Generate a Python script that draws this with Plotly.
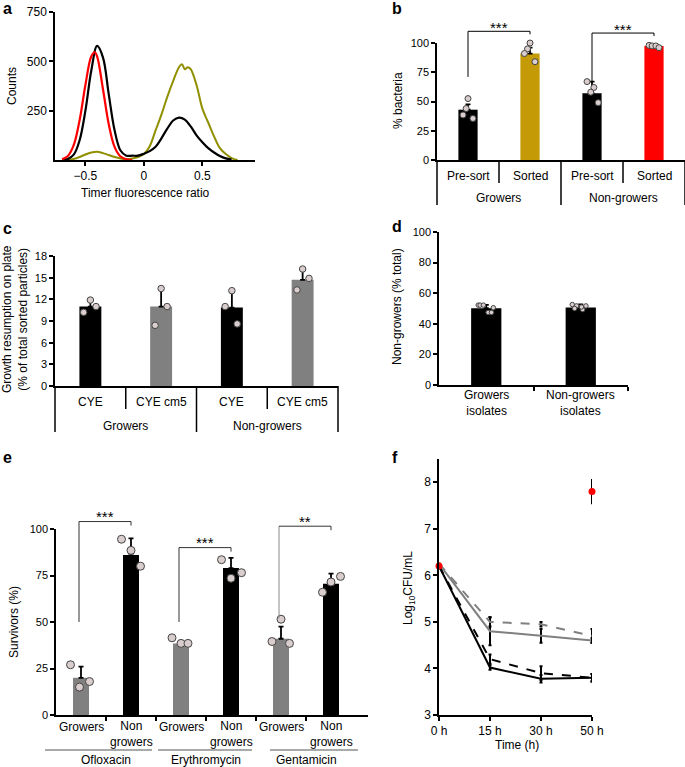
import plotly.graph_objects as go

W, H = 685, 767
FONT = "Liberation Sans, Arial, sans-serif"

# ---------------- data ----------------
# panel a: timer fluorescence histograms
a_x = [-0.70, -0.65, -0.60, -0.55, -0.50, -0.45, -0.40, -0.35, -0.30, -0.25, -0.20, -0.15,
       -0.10, -0.05, 0.00, 0.05, 0.10, 0.15, 0.20, 0.25, 0.30, 0.35, 0.40, 0.45, 0.50, 0.55,
       0.60, 0.65, 0.70, 0.75]
a_black = [0, 5, 27, 99, 250, 452, 578, 520, 331, 149, 48, 22,
           22, 22, 32, 45, 67, 110, 159, 200, 215, 205, 170, 125, 90, 60,
           38, 20, 8, 2]
a_red_x = [-0.70, -0.65, -0.60, -0.55, -0.50, -0.45, -0.42, -0.40, -0.35, -0.30, -0.25, -0.20, -0.15, -0.10]
a_red = [4, 20, 75, 200, 380, 525, 546, 525, 360, 180, 65, 18, 4, 0]
a_olive_x = [-0.65, -0.60, -0.55, -0.50, -0.45, -0.40, -0.35, -0.30, -0.25, -0.20, -0.15,
             -0.10, -0.05, 0.00, 0.05, 0.10, 0.15, 0.20, 0.25, 0.30, 0.325, 0.35, 0.375, 0.40,
             0.45, 0.50, 0.55, 0.60, 0.65, 0.70, 0.75, 0.80]
a_olive = [0, 5, 15, 28, 38, 42, 35, 25, 15, 8, 5,
           8, 15, 30, 70, 150, 230, 320, 400, 470, 485, 460, 470, 460,
           380, 260, 190, 120, 60, 30, 10, 0]

# panel b
b_cats = ["Pre-sort", "Sorted", "Pre-sort", "Sorted"]
b_groups = ["Growers", "Non-growers"]
b_means = [43, 91, 57, 97.5]
b_err = [4.5, 5, 10, 0.5]
b_points = [[52.5, 44, 38.5, 35.5], [100, 95, 91, 84], [67, 62, 58, 49], [98, 97.5, 97.5, 96]]
b_jit = [[0, -0.03, -0.08, 0.08], [0, -0.04, -0.09, 0.08], [-0.08, 0.03, -0.02, 0.1], [-0.08, -0.03, 0.03, 0.08]]
b_colors = ["#000000", "#c49a06", "#000000", "#ff0000"]
b_sig = ["***", "***"]
b_sig_leg = [71, 67]
b_sig_top = [110, 108.5]

# panel c
c_cats = ["CYE", "CYE cm5", "CYE", "CYE cm5"]
c_groups = ["Growers", "Non-growers"]
c_means = [11.0, 11.0, 10.86, 14.7]
c_err = [0.9, 2.5, 2.3, 1.5]
c_points = [[11.9, 10.2, 11.0], [13.5, 8.4, 11.0], [13.2, 11.0, 8.6], [16.2, 13.3, 14.9]]
c_jit = [[0, -0.095, 0.08], [0, -0.085, 0.085], [0, -0.095, 0.075], [0, -0.08, 0.09]]
c_colors = ["#000000", "#808080", "#000000", "#808080"]

# panel d
d_cats = ["Growers<br>isolates", "Non-growers<br>isolates"]
d_means = [50.2, 50.6]
d_err = [2.2, 2.0]
d_points = [[52.2, 52.2, 52.2, 50.5, 47.4, 47.4], [52.6, 51.7, 50.0, 49.3, 51.7, 51.0]]
d_jit = [[-0.085, -0.065, -0.03, 0.075, 0.02, 0.055], [-0.09, -0.045, -0.065, 0.02, 0.055, 0.008]]

# panel e
e_cats = ["Growers", "Non<br>growers"] * 3
e_groups = ["Ofloxacin", "Erythromycin", "Gentamicin"]
e_means = [20, 86, 38.5, 79, 41, 70.5]
e_err = [6, 9, 1, 5.5, 6.5, 5.5]
e_points = [[27, 15, 18], [94.5, 88.5, 80], [41.5, 38.5, 38.5],
            [83.5, 73.5, 76.5], [51.5, 39.5, 38.5], [66, 71.5, 74.5]]
e_jit = [[-0.21, -0.03, 0.17], [-0.19, 0, 0.19], [-0.18, 0, 0.14],
         [-0.19, 0, 0.21], [0, -0.18, 0.17], [-0.17, 0, 0.19]]
e_colors = ["#808080", "#000000"] * 3
e_sig = ["***", "***", "**"]
e_sig_leg = [50, 50, 52]
e_sig_top = [104, 90, 101.5]

# panel f
f_ticks = ["0 h", "15 h", "30 h", "50 h"]
f_gray_solid = [6.25, 4.8, 4.7, 4.6]
f_gray_solid_err = [0, 0.3, 0.15, 0.05]
f_gray_dash = [6.25, 5.0, 4.95, 4.7]
f_gray_dash_err = [0, 0.1, 0.05, 0.15]
f_black_solid = [6.2, 4.02, 3.78, 3.8]
f_black_solid_err = [0, 0.05, 0.08, 0.08]
f_black_dash = [6.2, 4.2, 3.9, 3.8]
f_black_dash_err = [0, 0.1, 0.15, 0.08]
f_red_x = [0, 3]
f_red = [6.2, 7.8]
f_red_err = [0, 0.27]

# ---------------- panel geometry (pixels) ----------------
P = {
    "a": dict(x0=55, x1=255, r0=-0.76, r1=0.95, yb=160, yt=12, s0=0, s1=750),
    "b": dict(x0=437, x1=685, r0=-0.5, r1=3.5, yb=160, yt=43, s0=0, s1=100),
    "c": dict(x0=55, x1=338, r0=-0.5, r1=3.5, yb=386, yt=256, s0=0, s1=18),
    "d": dict(x0=439, x1=628, r0=-0.5, r1=1.5, yb=385, yt=232, s0=0, s1=100),
    "e": dict(x0=56, x1=368, r0=-0.5, r1=5.74, yb=715, yt=529, s0=0, s1=100),
    "f": dict(x0=439, x1=592, r0=0, r1=3, yb=715, yt=459, s0=3, s1=8.5),
}
AX = {"a": "", "b": "2", "c": "3", "d": "4", "e": "5", "f": "6"}


def dpx(p, xv):
    g = P[p]
    return g["x0"] + (xv - g["r0"]) / (g["r1"] - g["r0"]) * (g["x1"] - g["x0"])


def dpy(p, yv):
    g = P[p]
    return g["yb"] - (yv - g["s0"]) / (g["s1"] - g["s0"]) * (g["yb"] - g["yt"])


def fx(px):
    return px / W


def fy(py):
    return 1 - py / H


shapes = []
annotations = []


def line_px(x0, y0, x1, y1, color="black", width=1.5):
    shapes.append(dict(type="line", xref="paper", yref="paper",
                       x0=fx(x0), y0=fy(y0), x1=fx(x1), y1=fy(y1),
                       line=dict(color=color, width=width)))


def text_px(x, y, t, size=12, angle=0, bold=False, xanchor="center"):
    annotations.append(dict(xref="paper", yref="paper", x=fx(x), y=fy(y), text=("<b>%s</b>" % t) if bold else t,
                            showarrow=False, textangle=angle, xanchor=xanchor, yanchor="middle",
                            font=dict(family=FONT, size=size, color="black")))


fig = go.Figure()


def xa(p):
    return "x" + AX[p]


def ya(p):
    return "y" + AX[p]


DOT = dict(color="#d9cdcd", line=dict(color="#444444", width=1))


def add_bars(p, means, err, colors, width):
    xs = list(range(len(means)))
    fig.add_trace(go.Bar(x=xs, y=means, width=width, marker=dict(color=colors, line=dict(width=0)),
                         error_y=dict(type="data", symmetric=False, array=err, arrayminus=[0] * len(err),
                                      color="black", thickness=1.8, width=2.5),
                         xaxis=xa(p), yaxis=ya(p), showlegend=False))


def add_dots(p, points, jit, size):
    xs, ys = [], []
    for i, (pts, js) in enumerate(zip(points, jit)):
        for v, j in zip(pts, js):
            xs.append(i + j)
            ys.append(v)
    fig.add_trace(go.Scatter(x=xs, y=ys, mode="markers", marker=dict(size=size, **DOT),
                             cliponaxis=False, xaxis=xa(p), yaxis=ya(p), showlegend=False))


# ---- panel a ----
fig.add_trace(go.Scatter(x=a_olive_x, y=a_olive, mode="lines", line=dict(color="#8f8f00", width=2, shape="spline"),
                         xaxis="x", yaxis="y", showlegend=False))
fig.add_trace(go.Scatter(x=a_x, y=a_black, mode="lines", line=dict(color="black", width=2.2, shape="spline"),
                         xaxis="x", yaxis="y", showlegend=False))
fig.add_trace(go.Scatter(x=a_red_x, y=a_red, mode="lines", line=dict(color="#ff0000", width=2.2, shape="spline"),
                         xaxis="x", yaxis="y", showlegend=False))

# ---- panel b ----
add_bars("b", b_means, b_err, b_colors, 0.31)
add_dots("b", b_points, b_jit, 6)
for i, xv in enumerate([-0.5, 0.5, 1.5, 2.5, 3.5]):
    long_ = i % 2 == 0
    line_px(dpx("b", xv), P["b"]["yb"], dpx("b", xv), 205 if long_ else 183, width=1.5)
for i, c in enumerate(b_cats):
    text_px(dpx("b", i), 176, c)
for g, name in enumerate(b_groups):
    text_px(dpx("b", 2 * g + 0.5), 198, name)
for g, s in enumerate(b_sig):
    xl, xr = dpx("b", 2 * g), dpx("b", 2 * g + 1)
    top = dpy("b", b_sig_top[g])
    line_px(xl, dpy("b", b_sig_leg[g]), xl, top, width=1)
    line_px(xl, top, xr, top, width=1)
    line_px(xr, top, xr, top + 3, width=1)
    text_px((xl + xr) / 2, top - 4, s, size=15)

# ---- panel c ----
add_bars("c", c_means, c_err, c_colors, 0.31)
add_dots("c", c_points, c_jit, 6.5)
for i, xv in enumerate([-0.5, 0.5, 1.5, 2.5, 3.5]):
    long_ = i % 2 == 0
    line_px(dpx("c", xv), P["c"]["yb"], dpx("c", xv), 432 if long_ else 409, width=1.5)
for i, c in enumerate(c_cats):
    text_px(dpx("c", i), 402, c)
for g, name in enumerate(c_groups):
    text_px(dpx("c", 2 * g + 0.5), 426, name)

# ---- panel d ----
add_bars("d", d_means, d_err, ["#000000", "#000000"], 0.32)
add_dots("d", d_points, d_jit, 4.5)
for i, c in enumerate(d_cats):
    text_px(dpx("d", i), 403, c)

# ---- panel e ----
add_bars("e", e_means, e_err, e_colors, 0.32)
add_dots("e", e_points, e_jit, 8)
for i, c in enumerate(e_cats):
    text_px(dpx("e", i), 734 if "<br>" in c else 727, c)
for g, name in enumerate(e_groups):
    text_px(dpx("e", 2 * g + 0.5), 760, name)
group_lines = [(45, 152), (158, 252), (270, 358)]
for (l0, l1) in group_lines:
    line_px(l0, 750, l1, 750, color="#555555", width=1)
for g, s in enumerate(e_sig):
    xl, xr = dpx("e", 2 * g) - 2, dpx("e", 2 * g + 1)
    top = dpy("e", e_sig_top[g])
    col = "#888888" if g == 2 else "#333333"
    line_px(xl, dpy("e", e_sig_leg[g]), xl, top, color=col, width=1)
    line_px(xl, top, xr, top, color="#333333", width=1)
    line_px(xr, top, xr, top + 4, color="#333333", width=1)
    text_px((xl + xr) / 2, top - 5, s, size=15)

# ---- panel f ----
fx_ = [0, 1, 2, 3]
f_series = [
    (f_gray_solid, f_gray_solid_err, "#808080", "solid"),
    (f_gray_dash, f_gray_dash_err, "#808080", "dash"),
    (f_black_solid, f_black_solid_err, "#000000", "solid"),
    (f_black_dash, f_black_dash_err, "#000000", "dash"),
]
for ys, es, col, dash in f_series:
    fig.add_trace(go.Scatter(x=fx_, y=ys, mode="lines", line=dict(color=col, width=2, dash=dash),
                             error_y=dict(type="data", array=es, color="black", thickness=2, width=1.5),
                             cliponaxis=False, xaxis="x6", yaxis="y6", showlegend=False))
fig.add_trace(go.Scatter(x=f_red_x, y=f_red, mode="markers", marker=dict(color="#ff0000", size=7),
                         error_y=dict(type="data", array=f_red_err, color="black", thickness=2, width=0),
                         cliponaxis=False, xaxis="x6", yaxis="y6", showlegend=False))

# ---------------- axes ----------------
base = dict(showline=True, linecolor="black", linewidth=1.5, ticks="outside", ticklen=4, tickwidth=1.5,
            tickcolor="black", showgrid=False, zeroline=False, fixedrange=True, automargin=False,
            tickfont=dict(family=FONT, size=11, color="black"))

layout_axes = {}
for p in "abcdef":
    g = P[p]
    xn = "xaxis" + AX[p]
    yn = "yaxis" + AX[p]
    layout_axes[xn] = dict(base, domain=[fx(g["x0"]), fx(g["x1"])], range=[g["r0"], g["r1"]],
                           anchor=ya(p))
    layout_axes[yn] = dict(base, domain=[fy(g["yb"]), fy(g["yt"])], range=[g["s0"], g["s1"]],
                           anchor=xa(p))

layout_axes["xaxis"].update(tickvals=[-0.5, 0, 0.5], ticktext=["\u22120.5", "0", "0.5"],
                            tickfont=dict(family=FONT, size=12, color="black"))
layout_axes["yaxis"].update(tickvals=[250, 500, 750], tickfont=dict(family=FONT, size=12, color="black"))
layout_axes["xaxis2"].update(showticklabels=False, ticks="")
layout_axes["yaxis2"].update(tickvals=[0, 25, 50, 75, 100])
layout_axes["xaxis3"].update(showticklabels=False, ticks="")
layout_axes["yaxis3"].update(tickvals=[0, 3, 6, 9, 12, 15, 18])
layout_axes["xaxis4"].update(showticklabels=False, tickvals=[0.5, 1.5])
layout_axes["yaxis4"].update(tickvals=[0, 20, 40, 60, 80, 100])
layout_axes["xaxis5"].update(showticklabels=False, tickvals=[0.5, 1.5, 2.5, 3.5, 4.5])
layout_axes["yaxis5"].update(tickvals=[0, 25, 50, 75, 100])
layout_axes["xaxis6"].update(tickvals=fx_, ticktext=f_ticks, tickfont=dict(family=FONT, size=12, color="black"))
layout_axes["yaxis6"].update(tickvals=[3, 4, 5, 6, 7, 8], tickfont=dict(family=FONT, size=12, color="black"))

# ---------------- titles / letters ----------------
text_px(12, 86, "Counts", angle=-90)
text_px(145, 193, "Timer fluorescence ratio")
text_px(398, 101, "% bacteria", angle=-90)
text_px(15, 319, "Growth resumption on plate<br>(% of total sorted particles)", angle=-90)
text_px(397, 307, "Non-growers (% total)", angle=-90)
text_px(14, 622, "Survivors (%)", angle=-90)
text_px(409, 588, "Log<sub>10</sub>CFU/mL", angle=-90)
text_px(517, 745, "Time (h)")

for L, (x, y) in {"a": (7, 9), "b": (397, 9), "c": (7, 228), "d": (397, 227), "e": (7, 457), "f": (395, 457)}.items():
    text_px(x, y, L, size=16, bold=True)

fig.update_layout(width=W, height=H, margin=dict(l=0, r=0, t=0, b=0, autoexpand=False),
                  paper_bgcolor="white", plot_bgcolor="white", showlegend=False,
                  barmode="overlay", shapes=shapes, annotations=annotations,
                  font=dict(family=FONT, size=12, color="black"), **layout_axes)

fig.write_html("out.html", config={"displayModeBar": False},
               post_script="document.body.style.margin='0';document.body.style.overflow='hidden';")
